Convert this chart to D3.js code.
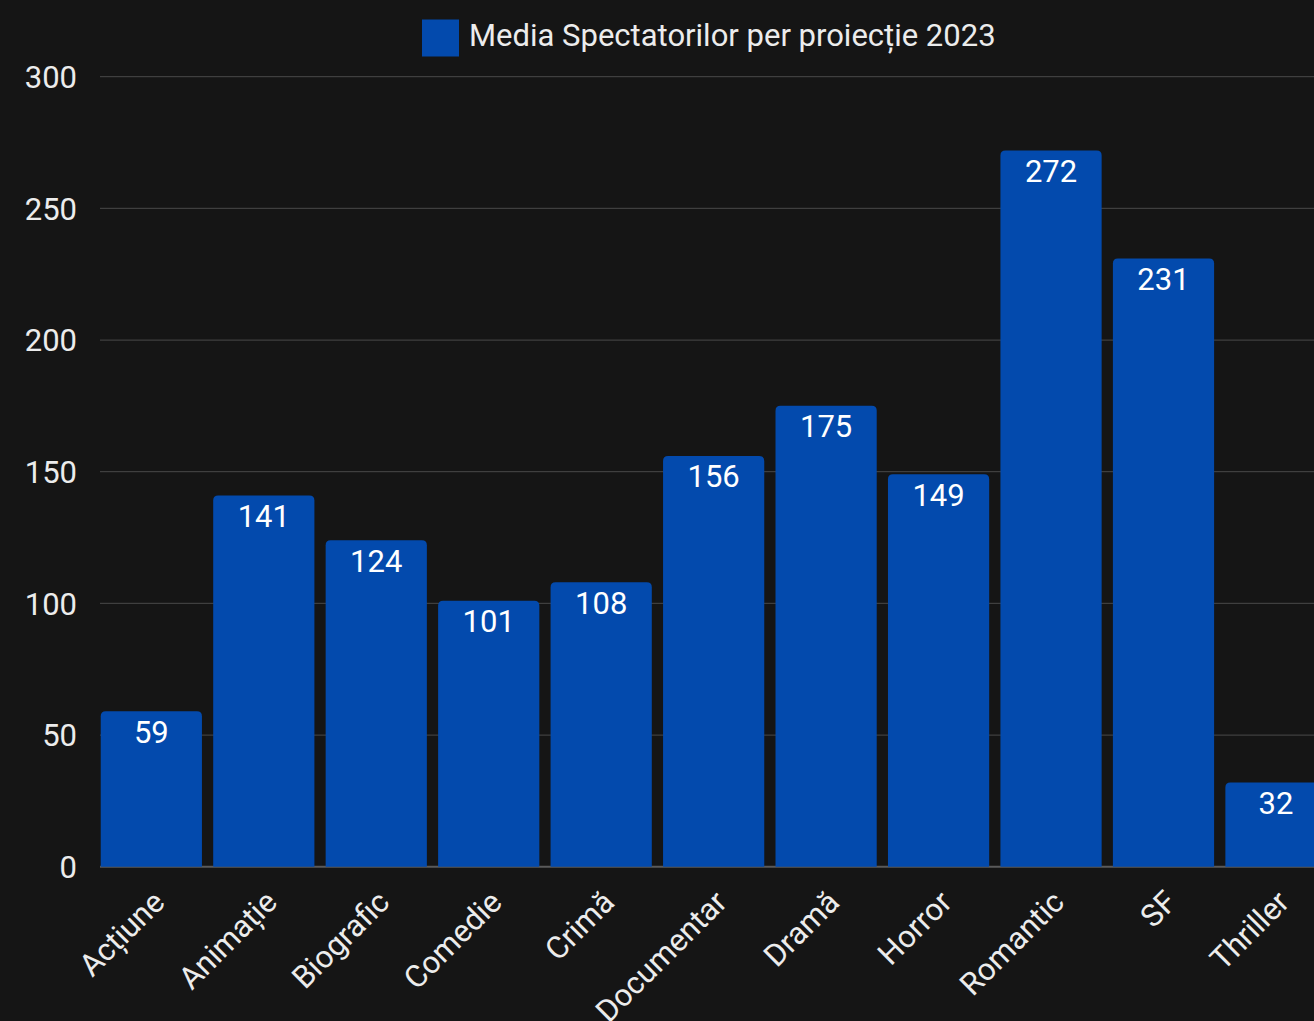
<!DOCTYPE html>
<html>
<head>
<meta charset="utf-8">
<script src="https://cdn.jsdelivr.net/npm/d3@7"></script>
<style>
  html, body { margin: 0; padding: 0; background: #151515; overflow: hidden; }
  svg { display: block; }
  text { font-family: Roboto, "Noto Sans", sans-serif; }
</style>
</head>
<body>
<script>
const categories = ["Acțiune", "Animație", "Biografic", "Comedie", "Crimă", "Documentar", "Dramă", "Horror", "Romantic", "SF", "Thriller"];
const values = [59, 141, 124, 101, 108, 156, 175, 149, 272, 231, 32];
const yTicks = [0, 50, 100, 150, 200, 250, 300];
const seriesName = "Media Spectatorilor per proiecție 2023";

const W = 1314, H = 1021;
const svg = d3.select("body").append("svg").attr("width", W).attr("height", H);
svg.append("rect").attr("width", W).attr("height", H).attr("fill", "#151515");

const plotLeft = 100, plotRight = W;
const y = d3.scaleLinear().domain([0, 300]).range([866.7, 76.7]);
const x = d3.scaleBand().domain(categories).range([95.1, 1332.2]).paddingInner(0.1).paddingOuter(0.05);

const barColor = "#034AAD";
const textColor = "#ececec";
const FS = 31;

// gridlines
svg.append("g").selectAll("line").data(yTicks).join("line")
  .attr("x1", plotLeft).attr("x2", plotRight)
  .attr("y1", d => y(d)).attr("y2", d => y(d))
  .attr("stroke", d => d === 0 ? "#5a5a5a" : "#3f3f3f")
  .attr("stroke-width", d => d === 0 ? 2 : 1.2);

// y tick labels
svg.append("g").selectAll("text").data(yTicks).join("text")
  .attr("x", 77).attr("y", d => y(d))
  .attr("dy", "0.36em")
  .attr("text-anchor", "end")
  .attr("fill", textColor)
  .attr("font-size", FS)
  .text(d => d);

// bars with rounded top corners
const r = 5;
function barPath(x0, w, yTop, yBot) {
  const rr = Math.min(r, (yBot - yTop));
  return `M${x0},${yBot}V${yTop + rr}Q${x0},${yTop} ${x0 + rr},${yTop}H${x0 + w - rr}Q${x0 + w},${yTop} ${x0 + w},${yTop + rr}V${yBot}Z`;
}
const data = categories.map((c, i) => ({ c, v: values[i] }));
svg.append("g").selectAll("path").data(data).join("path")
  .attr("d", d => barPath(x(d.c), x.bandwidth(), y(d.v), y(0)))
  .attr("fill", barColor);

// value labels
svg.append("g").selectAll("text").data(data).join("text")
  .attr("x", d => x(d.c) + x.bandwidth() / 2)
  .attr("y", d => y(d.v) + 31.5)
  .attr("text-anchor", "middle")
  .attr("fill", "#ffffff")
  .attr("font-size", FS)
  .text(d => d.v);

// x labels
svg.append("g").selectAll("text").data(categories).join("text")
  .attr("transform", d => `translate(${x(d) + x.bandwidth() / 2 + 15},${904}) rotate(-45)`)
  .attr("text-anchor", "end")
  .attr("fill", textColor)
  .attr("font-size", FS)
  .text(d => d);

// legend
const lg = svg.append("g");
lg.append("rect").attr("x", 422).attr("y", 19.5).attr("width", 37).attr("height", 37).attr("fill", barColor);
lg.append("text").attr("x", 469).attr("y", 46).attr("fill", textColor).attr("font-size", FS).text(seriesName);
</script>
</body>
</html>
